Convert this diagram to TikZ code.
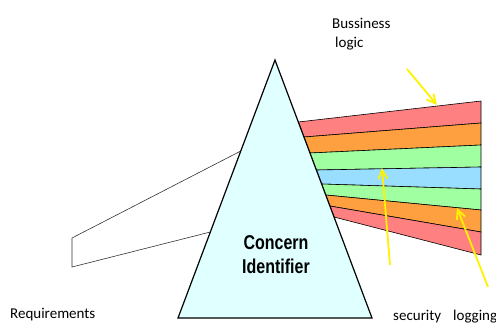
\documentclass[tikz,border=0pt]{standalone}
\usepackage{fontspec}
\setmainfont{Carlito}
\newfontfamily\concernfont[FakeStretch=0.8]{Liberation Sans}
\usetikzlibrary{arrows.meta,calc}

\definecolor{bandred}{RGB}{255,128,128}
\definecolor{bandorange}{RGB}{255,160,64}
\definecolor{bandgreen}{RGB}{160,255,160}
\definecolor{bandblue}{RGB}{153,221,255}
\definecolor{prismfill}{RGB}{224,255,255}

\begin{document}
\begin{tikzpicture}[x=1pt,y=-1pt]

      % Styles for the beams, the prism, the yellow pointers and the captions
      \tikzstyle{band}=[draw=black, line width=0.6pt]
      \tikzstyle{beam}=[draw=black!80, line width=0.6pt]
      \tikzstyle{prism}=[fill=prismfill, draw=black, line width=1.2pt, line join=miter]
      \tikzstyle{ray}=[draw=yellow, line width=1.8pt, -{Straight Barb[length=9pt,width=9pt]}]
      \tikzstyle{caption}=[font=\fontsize{15}{18}\selectfont, inner sep=0pt, anchor=base west]

      \useasboundingbox (0,0) rectangle (496,325);

      % Corners of the prism
      \coordinate (apex)  at (275,60);
      \coordinate (baseL) at (178,318);
      \coordinate (baseR) at (372,318);

      % Boundaries of the outgoing bands: left end on the prism, right end at x=481
      \foreach \i/\yl/\yr in {0/122/101, 1/137/123, 2/153/145, 3/170/167,
                              4/184/189, 5/195/210, 6/206/232, 7/217/255} {
        \coordinate (l\i) at ($(apex)!{(\yl-60)/258}!(baseR)$);
        \coordinate (r\i) at (481,\yr);
      }

      % Coloured bands
      \foreach \i/\j/\col in {0/1/bandred, 1/2/bandorange, 2/3/bandgreen, 3/4/bandblue,
                              4/5/bandgreen, 5/6/bandorange, 6/7/bandred} {
        \fill[\col, band] (l\i) -- (r\i) -- (r\j) -- (l\j) -- cycle;
      }

      % Incoming beam of requirements
      \coordinate (inTop)  at ($(apex)!0.3527!(baseL)$);
      \coordinate (inBot)  at ($(apex)!0.6667!(baseL)$);
      \coordinate (reqTop) at (72,238);
      \coordinate (reqBot) at (72,267);
      \draw[beam] (inTop) -- (reqTop) -- (reqBot) -- (inBot);

      % Prism
      \draw[prism] (apex) -- (baseR) -- (baseL) -- cycle;
      \node[align=center, font=\concernfont\bfseries\fontsize{20}{24}\selectfont]
            (concern) at (276,255) {Concern\\Identifier};

      % Yellow pointers
      \coordinate (logicStart) at (407,69);
      \coordinate (logicTip)   at (437,105);
      \coordinate (secStart)   at (390,265);
      \coordinate (secTip)     at (382,168);
      \coordinate (logStart)   at (488,287);
      \coordinate (logTip)     at (457,208);
      \draw[ray] (logicStart) -- (logicTip);
      \draw[ray] (secStart) -- (secTip);
      \draw[ray] (logStart) -- (logTip);

      % Captions
      \node[caption] (business) at (332,28) {Bussiness};
      \node[caption] (logic)    at (335,47) {logic};
      \node[caption] (req)      at (10,318) {Requirements};
      \node[caption] (security) at (393,320) {security};
      \node[caption] (logging)  at (453,320) {logging};

\end{tikzpicture}
\end{document}
